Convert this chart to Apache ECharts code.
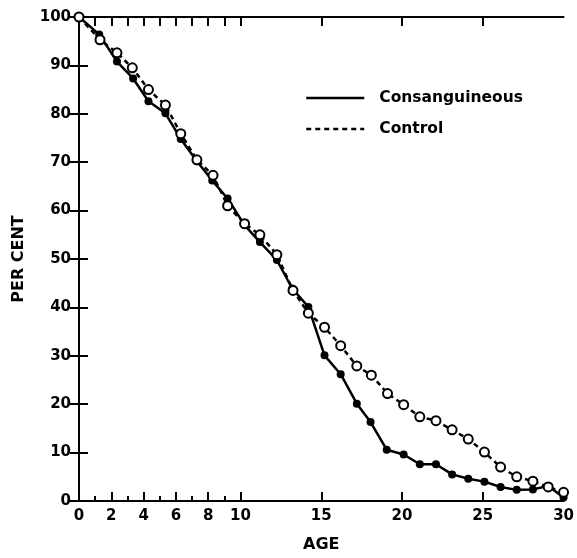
<!DOCTYPE html>
<html>
<head>
<meta charset="utf-8">
<script src="https://cdn.jsdelivr.net/npm/echarts@6/dist/echarts.min.js"></script>
<style>
html,body{margin:0;padding:0;background:#fff;}
#con{width:577px;height:558px;}
</style>
</head>
<body>
<div id="con"></div>
<script>
// ages and survival percentages
var consAge = [0, 1.25, 2.35, 3.35, 4.3, 5.35, 6.3, 7.3, 8.25, 9.2, 10.25, 11.2, 12.25, 13.2, 14.2, 15.2, 16.2, 17.2, 18.05, 19.05, 20.1, 21.1, 22.1, 23.1, 24.1, 25.1, 26.1, 27.1, 28.1, 29.05, 30];
var consPct = [100, 96.4, 90.8, 87.3, 82.6, 80.1, 74.8, 70.2, 66.2, 62.5, 57, 53.5, 49.8, 43.9, 40.1, 30.1, 26.2, 20.1, 16.3, 10.6, 9.6, 7.6, 7.6, 5.5, 4.6, 4.0, 2.9, 2.3, 2.4, 3.1, 0.7];
var ctrlAge = [0, 1.3, 2.35, 3.3, 4.3, 5.35, 6.3, 7.3, 8.3, 9.2, 10.25, 11.2, 12.25, 13.25, 14.2, 15.2, 16.2, 17.2, 18.1, 19.1, 20.1, 21.1, 22.1, 23.1, 24.1, 25.1, 26.1, 27.1, 28.1, 29.05, 30];
var ctrlPct = [100, 95.3, 92.6, 89.5, 85, 81.8, 75.9, 70.5, 67.3, 61, 57.3, 55, 50.9, 43.5, 38.8, 35.9, 32.1, 27.9, 26, 22.2, 19.9, 17.4, 16.6, 14.7, 12.8, 10.1, 7.0, 5.0, 4.1, 2.9, 1.8];

var xLabels = [0, 2, 4, 6, 8, 10, 15, 20, 25, 30];
var xMajorTicks = [2, 4, 6, 8, 10, 15, 20, 25];
var xMinorTicks = [1, 3, 5, 7, 9];
var topTicks = [1, 2, 3, 4, 5, 6, 7, 8, 9, 10, 15, 20, 25];

var seriesNames = ['Consanguineous', 'Control'];

function pairs(xs, ys) {
	var out = [];
	for (var i = 0; i < xs.length; i++) {
		out.push([xs[i], ys[i]]);
	}
	return out;
}

var myChart = echarts.init(document.getElementById('con'));
var font = 'DejaVu Sans';
var lineBlack = {color: '#000', width: 2};

option = {
	animation: false,
	backgroundColor: '#fff',
	grid: {left: 79, right: 12, top: 17, bottom: 53},
	legend: {
		orient: 'vertical',
		left: 300,
		top: 85,
		itemWidth: 58,
		itemHeight: 14,
		itemGap: 15,
		data: seriesNames,
		itemStyle: {opacity: 0},
		lineStyle: {width: 2.5},
		textStyle: {fontFamily: font, fontWeight: 'bold', fontSize: 15.5, color: '#000', padding: [0, 0, 0, 10]}
	},
	xAxis: [
		{
			type: 'value', min: 0, max: 30, position: 'bottom',
			name: 'AGE', nameLocation: 'middle', nameGap: 36,
			nameTextStyle: {fontFamily: font, fontWeight: 'bold', fontSize: 16, color: '#000'},
			axisLine: {lineStyle: lineBlack},
			axisTick: {inside: true, length: 9, lineStyle: lineBlack, customValues: xMajorTicks},
			axisLabel: {customValues: xLabels, margin: 8, fontFamily: font, fontWeight: 'bold', fontSize: 15, color: '#000'},
			splitLine: {show: false}
		},
		{
			type: 'value', min: 0, max: 30, position: 'bottom',
			axisLine: {show: false},
			axisTick: {inside: true, length: 5, lineStyle: lineBlack, customValues: xMinorTicks},
			axisLabel: {show: false},
			splitLine: {show: false}
		},
		{
			type: 'value', min: 0, max: 30, position: 'top',
			axisLine: {lineStyle: lineBlack},
			axisTick: {inside: true, length: 9, lineStyle: lineBlack, customValues: topTicks},
			axisLabel: {show: false},
			splitLine: {show: false}
		}
	],
	yAxis: [
		{
			type: 'value', min: 0, max: 100, interval: 10, position: 'left',
			name: 'PER CENT', nameLocation: 'middle', nameGap: 52, nameRotate: 90,
			nameTextStyle: {fontFamily: font, fontWeight: 'bold', fontSize: 16, color: '#000'},
			axisLine: {show: true, lineStyle: lineBlack},
			axisTick: {inside: true, length: 9, lineStyle: lineBlack},
			axisLabel: {margin: 8, fontFamily: font, fontWeight: 'bold', fontSize: 15, color: '#000'},
			splitLine: {show: false}
		},
		{
			type: 'value', min: 0, max: 100, interval: 10, position: 'right',
			axisLine: {show: true, lineStyle: lineBlack},
			axisTick: {inside: true, length: 9, lineStyle: lineBlack},
			axisLabel: {show: false},
			splitLine: {show: false}
		}
	],
	series: [
		{
			name: seriesNames[0],
			type: 'line',
			xAxisIndex: 0, yAxisIndex: 0,
			data: pairs(consAge, consPct),
			symbol: 'circle', symbolSize: 8,
			itemStyle: {color: '#000'},
			lineStyle: {color: '#000', width: 2.5},
			z: 3
		},
		{
			name: seriesNames[1],
			type: 'line',
			xAxisIndex: 0, yAxisIndex: 0,
			data: pairs(ctrlAge, ctrlPct),
			symbol: 'circle', symbolSize: 9,
			showAllSymbol: true,
			itemStyle: {color: '#fff', borderColor: '#000', borderWidth: 2},
			lineStyle: {color: '#000', width: 2.5, type: [5, 4]},
			z: 4
		}
	]
};

myChart.setOption(option);
</script>
</body>
</html>
